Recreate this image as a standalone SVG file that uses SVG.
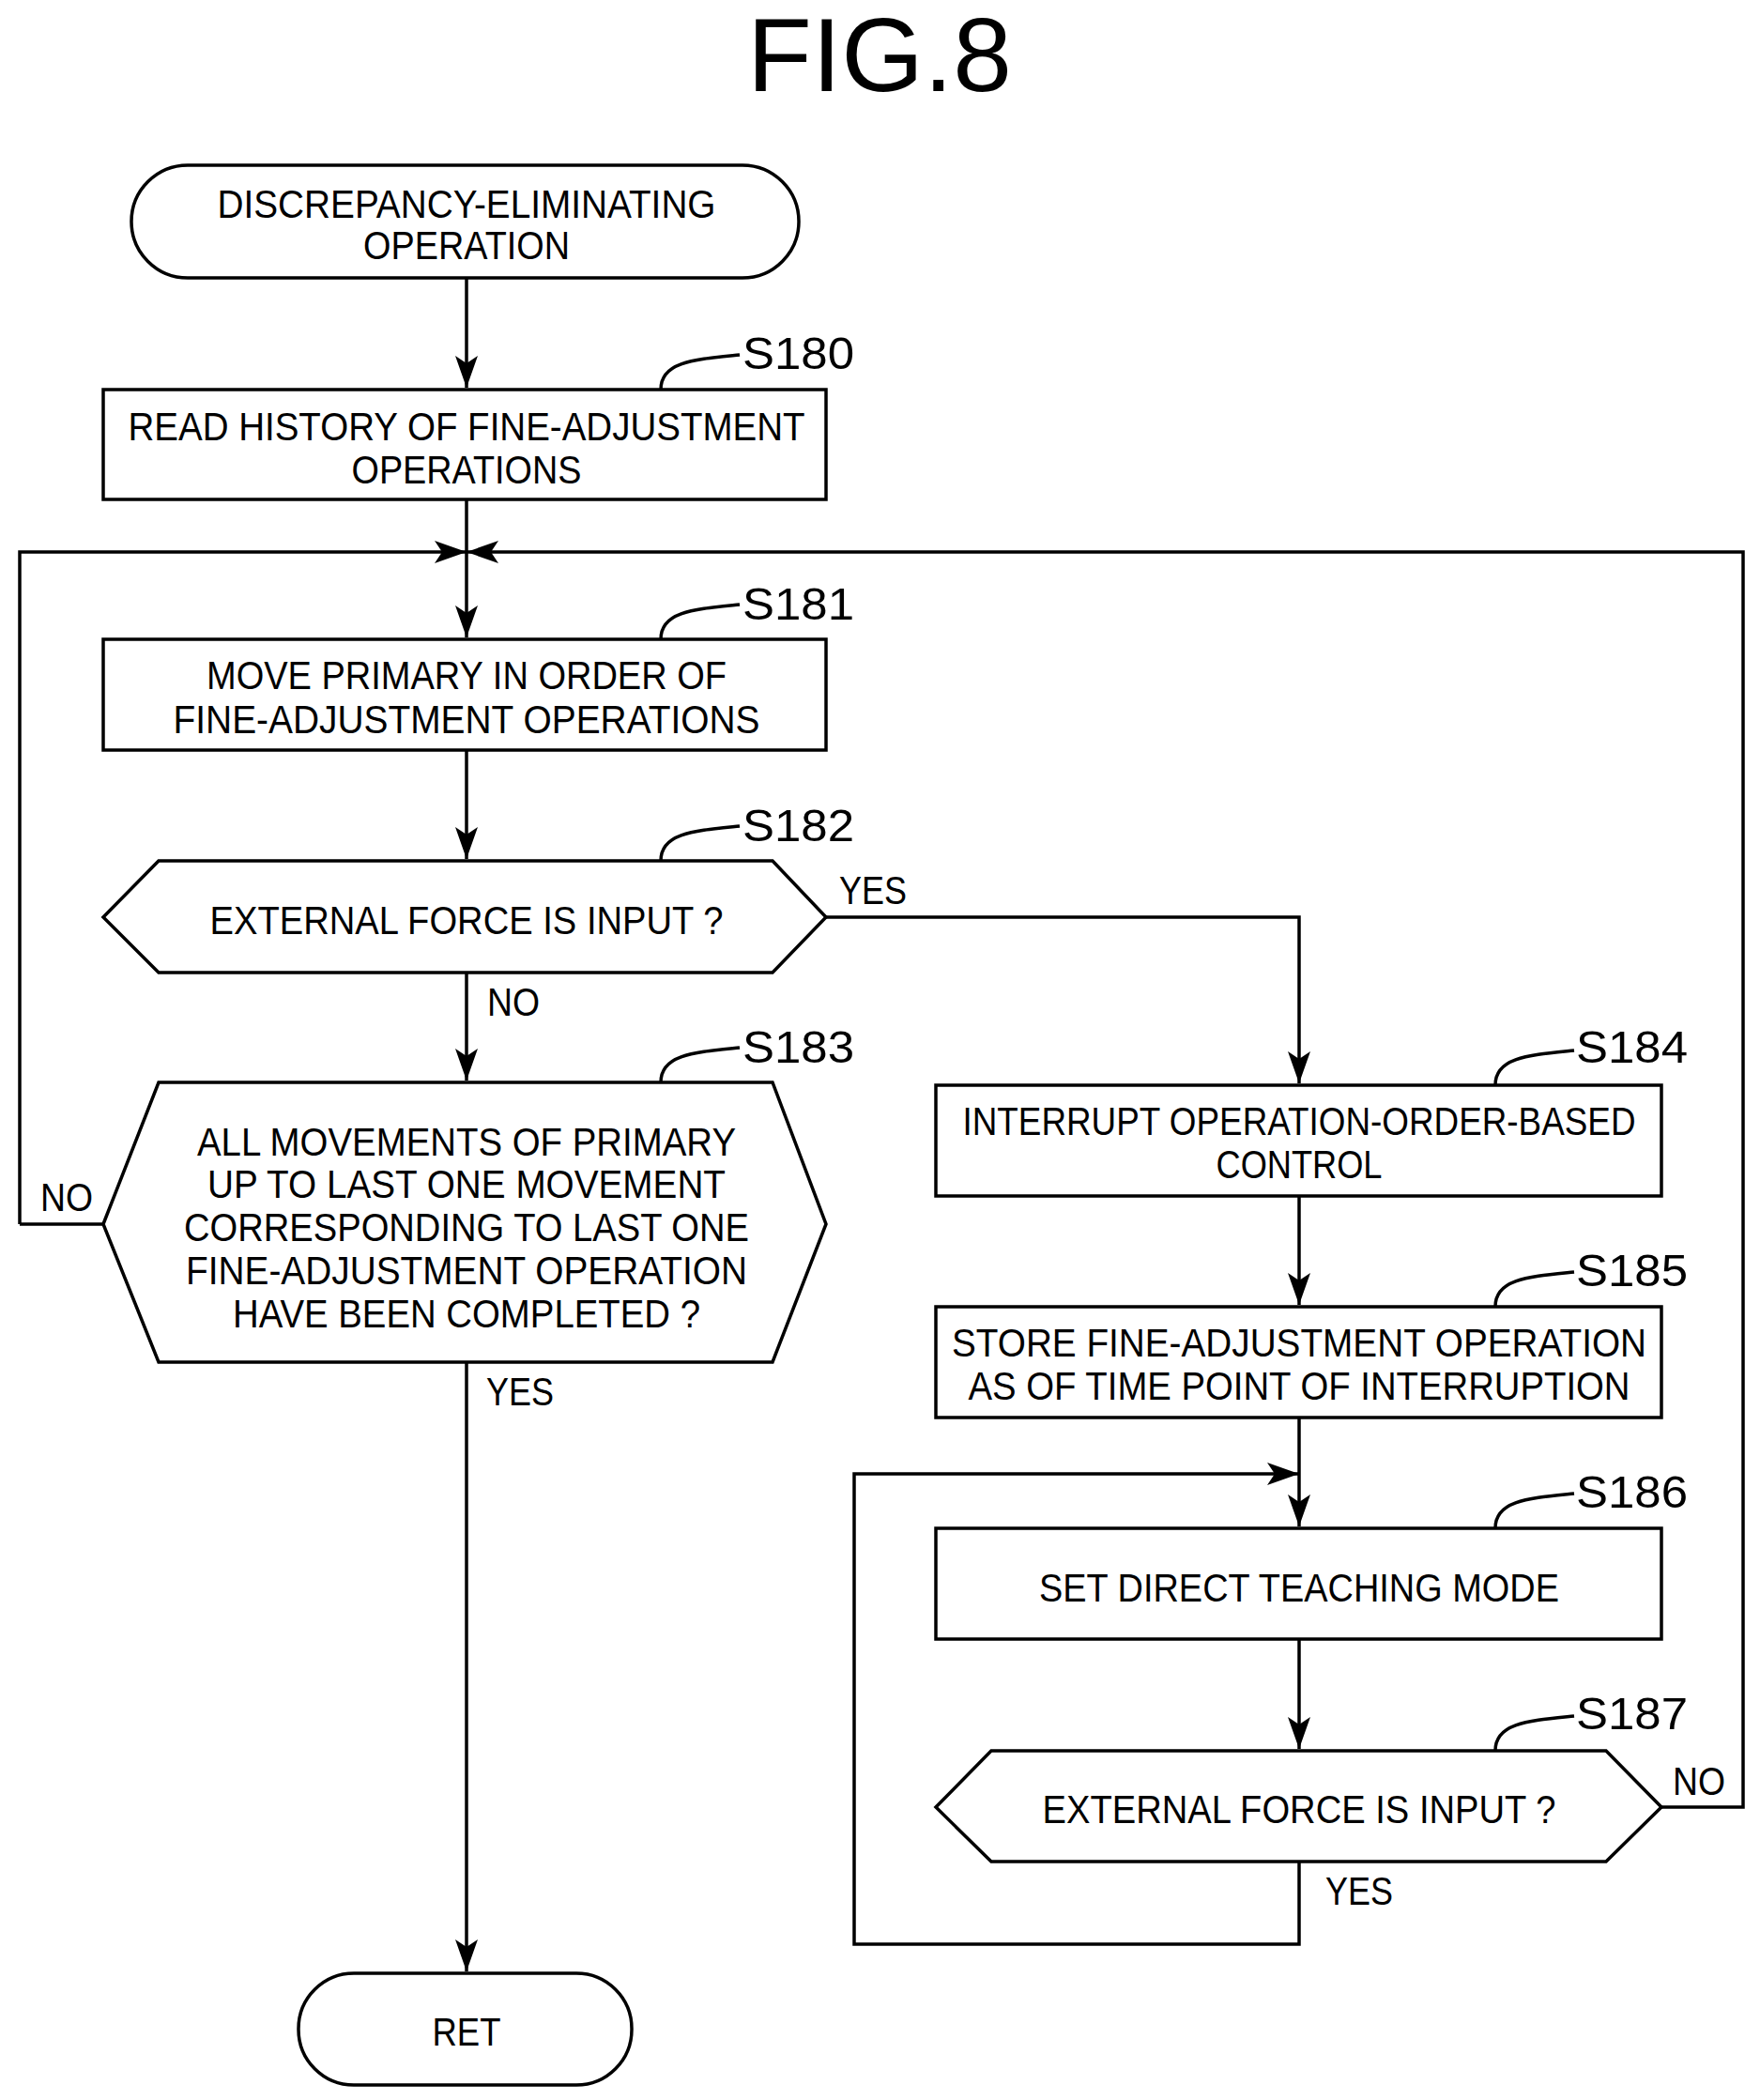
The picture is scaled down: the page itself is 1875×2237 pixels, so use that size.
<svg xmlns="http://www.w3.org/2000/svg" width="1875" height="2237" viewBox="0 0 1875 2237">
<style>
.s{fill:none;stroke:#000;stroke-width:3.5}
.n{fill:#fff;stroke:#000;stroke-width:3.5}
text{font-family:"Liberation Sans",Arial,sans-serif;font-size:42px;fill:#000;text-anchor:middle}
.l{text-anchor:start;font-size:48px}
.y{text-anchor:start}
</style>
<defs>
<marker id="a" markerUnits="userSpaceOnUse" markerWidth="36" markerHeight="24" refX="34" refY="12" orient="auto"><path d="M0,0 L34,12 L0,24 L8,12 Z" fill="#000"/></marker>
</defs>
<text x="937" y="97" style="font-size:112px" textLength="282" lengthAdjust="spacingAndGlyphs">FIG.8</text>
<g id="connectors">
<path class="s" d="M497,296 V413" marker-end="url(#a)"/>
<path class="s" d="M497,532 V679" marker-end="url(#a)"/>
<path class="s" d="M21,1304 H110 M21,1304 V588 H497" marker-end="url(#a)"/>
<path class="s" d="M1770,1925 H1857 V588 H497" marker-end="url(#a)"/>
<path class="s" d="M497,799 V915" marker-end="url(#a)"/>
<path class="s" d="M497,1036 V1151" marker-end="url(#a)"/>
<path class="s" d="M880,977 H1384 V1154" marker-end="url(#a)"/>
<path class="s" d="M497,1451 V2100" marker-end="url(#a)"/>
<path class="s" d="M1384,1274 V1390" marker-end="url(#a)"/>
<path class="s" d="M1384,1510 V1626" marker-end="url(#a)"/>
<path class="s" d="M1384,1746 V1863" marker-end="url(#a)"/>
<path class="s" d="M1384,1983 V2071 H910 V1570 H1384" marker-end="url(#a)"/>
<text class="y" x="894" y="963" textLength="72" lengthAdjust="spacingAndGlyphs">YES</text>
<text class="y" x="519" y="1082" textLength="56" lengthAdjust="spacingAndGlyphs">NO</text>
<text class="y" x="43" y="1290" textLength="56" lengthAdjust="spacingAndGlyphs">NO</text>
<text class="y" x="518" y="1497" textLength="72" lengthAdjust="spacingAndGlyphs">YES</text>
<text class="y" x="1412" y="2029" textLength="72" lengthAdjust="spacingAndGlyphs">YES</text>
<text class="y" x="1782" y="1912" textLength="56" lengthAdjust="spacingAndGlyphs">NO</text>
</g>
<g id="start">
<rect class="n" x="140" y="176" width="711" height="120" rx="60"/>
<text x="497" y="232" textLength="531" lengthAdjust="spacingAndGlyphs">DISCREPANCY-ELIMINATING</text>
<text x="497" y="276" textLength="220" lengthAdjust="spacingAndGlyphs">OPERATION</text>
</g>
<g id="S180">
<rect class="n" x="110" y="415" width="770" height="117"/>
<text x="497" y="469" textLength="721" lengthAdjust="spacingAndGlyphs">READ HISTORY OF FINE-ADJUSTMENT</text>
<text x="497" y="515" textLength="245" lengthAdjust="spacingAndGlyphs">OPERATIONS</text>
<path class="s" d="M704,415 C704,385 740,383 788,378"/>
<text class="l" x="791" y="393" textLength="119" lengthAdjust="spacingAndGlyphs">S180</text>
</g>
<g id="S181">
<rect class="n" x="110" y="681" width="770" height="118"/>
<text x="497" y="734" textLength="554" lengthAdjust="spacingAndGlyphs">MOVE PRIMARY IN ORDER OF</text>
<text x="497" y="781" textLength="625" lengthAdjust="spacingAndGlyphs">FINE-ADJUSTMENT OPERATIONS</text>
<path class="s" d="M704,681 C704,651 740,649 788,644"/>
<text class="l" x="791" y="660" textLength="119" lengthAdjust="spacingAndGlyphs">S181</text>
</g>
<g id="S182">
<path class="n" d="M110,977 L169,917 H823 L880,977 L823,1036 H169 Z"/>
<text x="497" y="995" textLength="547" lengthAdjust="spacingAndGlyphs">EXTERNAL FORCE IS INPUT ?</text>
<path class="s" d="M704,917 C704,887 740,885 788,880"/>
<text class="l" x="791" y="896" textLength="119" lengthAdjust="spacingAndGlyphs">S182</text>
</g>
<g id="S183">
<path class="n" d="M110,1304 L169,1153 H823 L880,1304 L823,1451 H169 Z"/>
<text x="497" y="1231" textLength="574" lengthAdjust="spacingAndGlyphs">ALL MOVEMENTS OF PRIMARY</text>
<text x="497" y="1276" textLength="552" lengthAdjust="spacingAndGlyphs">UP TO LAST ONE MOVEMENT</text>
<text x="497" y="1322" textLength="602" lengthAdjust="spacingAndGlyphs">CORRESPONDING TO LAST ONE</text>
<text x="497" y="1368" textLength="598" lengthAdjust="spacingAndGlyphs">FINE-ADJUSTMENT OPERATION</text>
<text x="497" y="1414" textLength="498" lengthAdjust="spacingAndGlyphs">HAVE BEEN COMPLETED ?</text>
<path class="s" d="M704,1153 C704,1123 740,1121 788,1116"/>
<text class="l" x="791" y="1132" textLength="119" lengthAdjust="spacingAndGlyphs">S183</text>
</g>
<g id="S184">
<rect class="n" x="997" y="1156" width="773" height="118"/>
<text x="1384" y="1209" textLength="717" lengthAdjust="spacingAndGlyphs">INTERRUPT OPERATION-ORDER-BASED</text>
<text x="1384" y="1255" textLength="177" lengthAdjust="spacingAndGlyphs">CONTROL</text>
<path class="s" d="M1593,1156 C1593,1126 1629,1124 1677,1119"/>
<text class="l" x="1679" y="1132" textLength="119" lengthAdjust="spacingAndGlyphs">S184</text>
</g>
<g id="S185">
<rect class="n" x="997" y="1392" width="773" height="118"/>
<text x="1384" y="1445" textLength="740" lengthAdjust="spacingAndGlyphs">STORE FINE-ADJUSTMENT OPERATION</text>
<text x="1384" y="1491" textLength="705" lengthAdjust="spacingAndGlyphs">AS OF TIME POINT OF INTERRUPTION</text>
<path class="s" d="M1593,1392 C1593,1362 1629,1360 1677,1355"/>
<text class="l" x="1679" y="1370" textLength="119" lengthAdjust="spacingAndGlyphs">S185</text>
</g>
<g id="S186">
<rect class="n" x="997" y="1628" width="773" height="118"/>
<text x="1384" y="1706" textLength="554" lengthAdjust="spacingAndGlyphs">SET DIRECT TEACHING MODE</text>
<path class="s" d="M1593,1628 C1593,1598 1629,1596 1677,1591"/>
<text class="l" x="1679" y="1606" textLength="119" lengthAdjust="spacingAndGlyphs">S186</text>
</g>
<g id="S187">
<path class="n" d="M997,1925 L1056,1865 H1711 L1770,1925 L1711,1983 H1056 Z"/>
<text x="1384" y="1942" textLength="547" lengthAdjust="spacingAndGlyphs">EXTERNAL FORCE IS INPUT ?</text>
<path class="s" d="M1593,1865 C1593,1835 1629,1833 1677,1828"/>
<text class="l" x="1679" y="1842" textLength="119" lengthAdjust="spacingAndGlyphs">S187</text>
</g>
<g id="ret">
<rect class="n" x="318" y="2102" width="355" height="119" rx="59"/>
<text x="497" y="2179" textLength="73" lengthAdjust="spacingAndGlyphs">RET</text>
</g>
</svg>
